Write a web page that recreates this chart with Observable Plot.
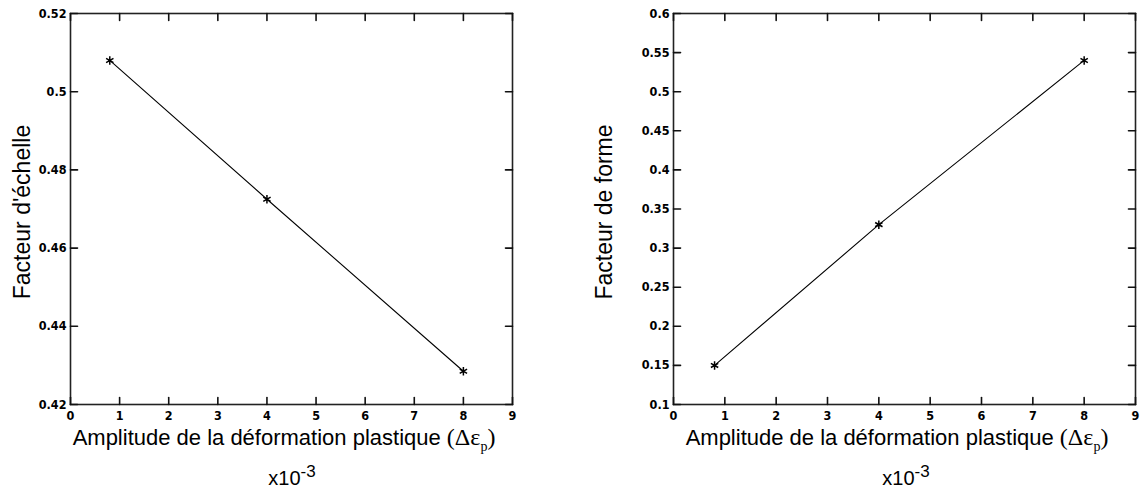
<!DOCTYPE html>
<html>
<head>
<meta charset="utf-8">
<script src="https://cdn.jsdelivr.net/npm/d3@7"></script>
<script src="https://cdn.jsdelivr.net/npm/@observablehq/plot@0.6"></script>
<style>
  html, body { margin: 0; padding: 0; background: #fff; }
  #wrap { position: relative; width: 1142px; height: 497px; overflow: hidden; }
  .plot { position: absolute; top: 0; }
  .lbl { position: absolute; font-family: "Liberation Sans", Arial, sans-serif; color: #000; white-space: nowrap; }
  .ylab { font-size: 23px; transform: translate(-50%, -50%) rotate(-90deg); }
  .xlab { font-size: 22px; transform: translateX(-50%); }
  .serif { font-family: "Liberation Serif", "Times New Roman", serif; font-size: 24px; }
  .xpow { font-size: 20px; transform: translateX(-50%); }
</style>
</head>
<body>
<div id="wrap"></div>
<script>
// Data
const amplitude = [0.8, 4, 8];                 // x10^-3
const facteurEchelle = [0.508, 0.4725, 0.4285];
const facteurForme = [0.15, 0.33, 0.54];
const xTicks = [0, 1, 2, 3, 4, 5, 6, 7, 8, 9];
const yTicksLeft = [0.42, 0.44, 0.46, 0.48, 0.5, 0.52];
const yTicksRight = [0.1, 0.15, 0.2, 0.25, 0.3, 0.35, 0.4, 0.45, 0.5, 0.55, 0.6];

const fontTick = '"Liberation Sans Narrow", "DejaVu Sans Condensed", sans-serif';
const T = 7; // inward tick length
const lineShape = {draw(context, l) { context.moveTo(0, 0); context.lineTo(0, -l); }};

function makePlot(values, yDomain, yTicks, margins) {
  const data = amplitude.map((x, i) => ({x, y: values[i]}));
  const [y0, y1] = yDomain;
  const [x0, x1] = [0, 9];
  const v = {length: T, anchor: "start", shape: lineShape, stroke: "#111", strokeWidth: 1.6};
  return Plot.plot({
    width: 571,
    height: 430,
    marginTop: 13,
    marginBottom: 26,
    marginLeft: margins.left,
    marginRight: margins.right,
    style: {fontFamily: fontTick, fontSize: "12.5px", fontWeight: "bold", color: "#000", background: "#fff"},
    x: {domain: [x0, x1], ticks: xTicks, label: null},
    y: {domain: yDomain, ticks: yTicks, label: null},
    marks: [
      Plot.frame({stroke: "#222", strokeWidth: 1.6}),
      // labels
      Plot.axisX({anchor: "bottom", ticks: xTicks, tickSize: 0, tickPadding: 7, label: null, tickFormat: d => String(d)}),
      Plot.axisY({anchor: "left", ticks: yTicks, tickSize: 0, tickPadding: 4, label: null, tickFormat: d => String(+d.toFixed(3))}),
      // inward ticks (MATLAB style, on all four sides)
      Plot.vector(xTicks, {x: d => d, y: () => y0, rotate: 0, ...v}),
      Plot.vector(xTicks, {x: d => d, y: () => y1, rotate: 180, ...v}),
      Plot.vector(yTicks, {x: () => x0, y: d => d, rotate: 90, ...v}),
      Plot.vector(yTicks, {x: () => x1, y: d => d, rotate: -90, ...v}),
      Plot.line(data, {x: "x", y: "y", stroke: "#000", strokeWidth: 1.1}),
      Plot.dot(data, {x: "x", y: "y", symbol: "asterisk", r: 4, stroke: "#000", strokeWidth: 1.5})
    ]
  });
}

const wrap = document.getElementById("wrap");
const left = makePlot(facteurEchelle, [0.42, 0.52], yTicksLeft, {left: 70, right: 59});
left.classList.add("plot"); left.style.left = "0px";
const right = makePlot(facteurForme, [0.1, 0.6], yTicksRight, {left: 102, right: 7});
right.classList.add("plot"); right.style.left = "571px";
wrap.appendChild(left);
wrap.appendChild(right);

function addLabel(html, cls, x, y) {
  const d = document.createElement("div");
  d.className = "lbl " + cls;
  d.innerHTML = html;
  d.style.left = x + "px";
  d.style.top = y + "px";
  wrap.appendChild(d);
}
const xTitle = 'Amplitude de la déformation plastique <span class="serif">(Δε<sub style="font-size:14px">p</sub>)</span>';
addLabel("Facteur d'échelle", "ylab", 22, 212);
addLabel("Facteur de forme", "ylab", 604, 212);
addLabel(xTitle, "xlab", 284, 424);
addLabel(xTitle, "xlab", 897, 424);
addLabel('x10<sup style="font-size:17px">-3</sup>', "xpow", 292, 462);
addLabel('x10<sup style="font-size:17px">-3</sup>', "xpow", 906, 462);
</script>
</body>
</html>
